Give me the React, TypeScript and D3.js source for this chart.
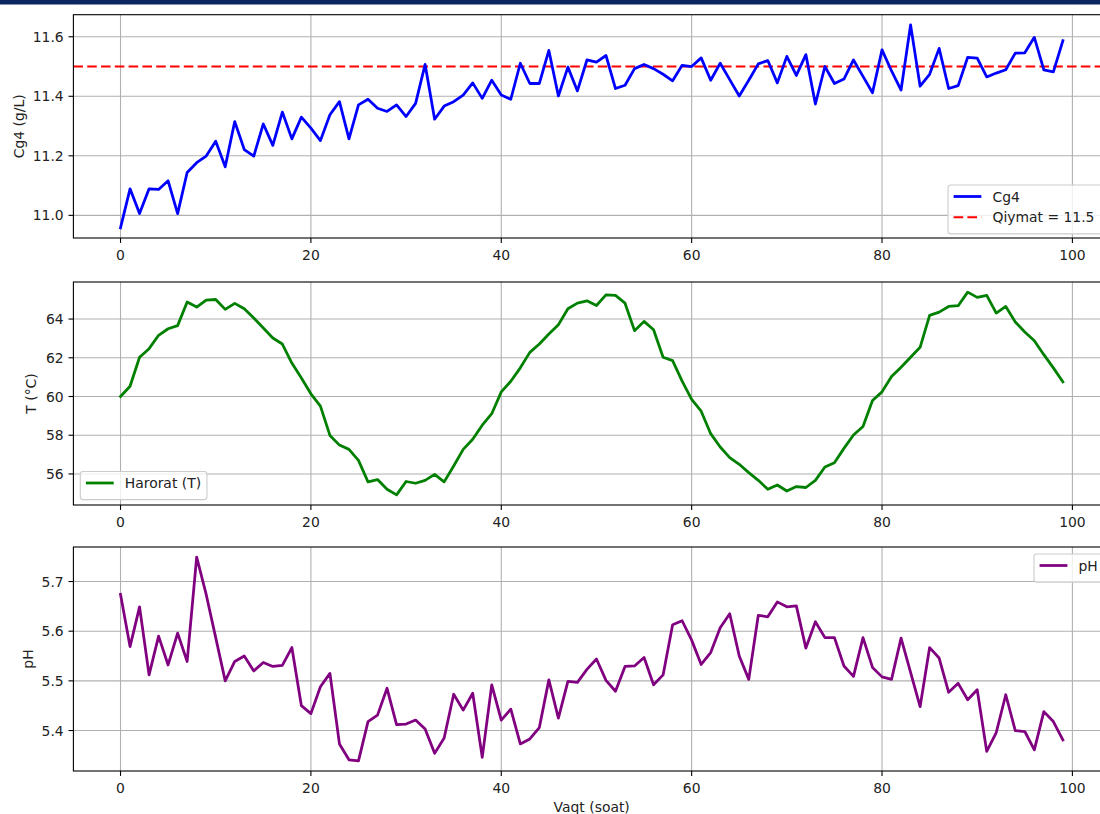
import React, { useEffect, useRef } from 'react';
import * as d3 from 'd3';

// hours 0..99
const hours: number[] = d3.range(100);

const cg4: number[] = [
  10.958, 11.089, 11.006, 11.089, 11.087, 11.116, 11.006, 11.144, 11.177, 11.199,
  11.249, 11.163, 11.315, 11.221, 11.199, 11.307, 11.235, 11.347, 11.257, 11.330,
  11.293, 11.251, 11.338, 11.382, 11.257, 11.371, 11.390, 11.360, 11.349, 11.371,
  11.332, 11.376, 11.507, 11.323, 11.367, 11.382, 11.404, 11.445, 11.393, 11.454,
  11.404, 11.390, 11.511, 11.443, 11.443, 11.554, 11.401, 11.498, 11.418, 11.522,
  11.515, 11.537, 11.426, 11.437, 11.493, 11.507, 11.493, 11.474, 11.452, 11.504,
  11.500, 11.529, 11.454, 11.511, 11.456, 11.401, 11.454, 11.509, 11.520, 11.445,
  11.534, 11.470, 11.540, 11.374, 11.500, 11.443, 11.458, 11.522, 11.467, 11.412,
  11.556, 11.485, 11.421, 11.640, 11.434, 11.474, 11.561, 11.426, 11.436, 11.531,
  11.528, 11.465, 11.478, 11.489, 11.545, 11.546, 11.598, 11.489, 11.482, 11.587,
];

const temp: number[] = [
  60.00, 60.53, 62.03, 62.47, 63.16, 63.50, 63.66, 64.88, 64.62, 64.98,
  65.01, 64.50, 64.81, 64.53, 64.05, 63.54, 63.02, 62.71, 61.73, 60.96,
  60.14, 59.50, 57.99, 57.49, 57.27, 56.70, 55.59, 55.71, 55.21, 54.92,
  55.61, 55.52, 55.67, 55.98, 55.59, 56.41, 57.27, 57.79, 58.52, 59.11,
  60.24, 60.79, 61.48, 62.28, 62.71, 63.23, 63.71, 64.53, 64.82, 64.94,
  64.70, 65.25, 65.22, 64.82, 63.40, 63.88, 63.45, 62.03, 61.85, 60.79,
  59.85, 59.24, 58.08, 57.39, 56.84, 56.50, 56.07, 55.67, 55.21, 55.43,
  55.12, 55.35, 55.30, 55.67, 56.36, 56.58, 57.32, 58.01, 58.45, 59.79,
  60.24, 61.03, 61.51, 62.03, 62.54, 64.19, 64.36, 64.65, 64.69, 65.39,
  65.12, 65.22, 64.31, 64.65, 63.85, 63.33, 62.88, 62.16, 61.48, 60.76,
];

const ph: number[] = [
  5.674, 5.569, 5.649, 5.512, 5.590, 5.532, 5.596, 5.539, 5.749, 5.674,
  5.587, 5.500, 5.539, 5.550, 5.520, 5.537, 5.529, 5.531, 5.567, 5.450,
  5.434, 5.488, 5.515, 5.373, 5.341, 5.339, 5.418, 5.431, 5.485, 5.412,
  5.413, 5.421, 5.403, 5.354, 5.385, 5.473, 5.441, 5.475, 5.346, 5.492,
  5.421, 5.443, 5.373, 5.383, 5.406, 5.502, 5.425, 5.499, 5.497, 5.523,
  5.544, 5.501, 5.479, 5.529, 5.530, 5.547, 5.492, 5.512, 5.613, 5.621,
  5.582, 5.533, 5.557, 5.607, 5.635, 5.550, 5.503, 5.632, 5.629, 5.659,
  5.649, 5.651, 5.566, 5.619, 5.587, 5.587, 5.530, 5.509, 5.587, 5.527,
  5.508, 5.503, 5.586, 5.517, 5.448, 5.567, 5.546, 5.477, 5.495, 5.462,
  5.482, 5.358, 5.396, 5.472, 5.400, 5.398, 5.361, 5.438, 5.418, 5.381,
];

const target = 11.5;

const xTicks = [0, 20, 40, 60, 80, 100];
const cgTicks = [11.0, 11.2, 11.4, 11.6];
const tTicks = [56, 58, 60, 62, 64];
const phTicks = [5.4, 5.5, 5.6, 5.7];

const W = 1100;
const H = 814;
const FONT = 'DejaVu Sans, sans-serif';
const FS = 13.9;

function padded(vals: number[]): [number, number] {
  const [lo, hi] = d3.extent(vals) as [number, number];
  const m = (hi - lo) * 0.05;
  return [lo - m, hi + m];
}

export default function App() {
  const ref = useRef<SVGSVGElement>(null);

  useEffect(() => {
    const svg = d3.select(ref.current);
    svg.selectAll('*').remove();

    svg.append('rect').attr('width', W).attr('height', H).attr('fill', '#fff');
    // dark strip along the top edge
    svg.append('rect').attr('width', W).attr('height', 4.5).attr('fill', '#0b2561');

    const left = 73.4;
    const right = 1110;
    const x = d3.scaleLinear().domain(padded(hours)).range([left, right]);

    const panels = [
      { top: 14.7, bottom: 238, data: cg4, ticks: cgTicks, fmt: d3.format('.1f'), color: '#0000ff', label: 'Cg4 (g/L)', labelX: 19 },
      { top: 282, bottom: 505, data: temp, ticks: tTicks, fmt: d3.format('d'), color: '#008000', label: 'T (°C)', labelX: 31 },
      { top: 547, bottom: 771, data: ph, ticks: phTicks, fmt: d3.format('.1f'), color: '#800080', label: 'pH', labelX: 28 },
    ];

    panels.forEach((p, pi) => {
      const y = d3.scaleLinear().domain(padded(p.data)).range([p.bottom, p.top]);
      const g = svg.append('g');

      // grid
      g.selectAll('line.gx').data(xTicks).join('line')
        .attr('x1', d => x(d)).attr('x2', d => x(d))
        .attr('y1', p.top).attr('y2', p.bottom)
        .attr('stroke', '#b0b0b0').attr('stroke-width', 1.1);
      g.selectAll('line.gy').data(p.ticks).join('line')
        .attr('x1', left).attr('x2', right)
        .attr('y1', d => y(d)).attr('y2', d => y(d))
        .attr('stroke', '#b0b0b0').attr('stroke-width', 1.1);

      const line = d3.line<number>().x((_, i) => x(hours[i])).y(d => y(d));

      if (pi === 0) {
        g.append('line')
          .attr('x1', left).attr('x2', right)
          .attr('y1', y(target)).attr('y2', y(target))
          .attr('stroke', '#ff0000').attr('stroke-width', 2.1)
          .attr('stroke-dasharray', '9.6,4.2');
      }

      g.append('path').datum(p.data)
        .attr('d', line)
        .attr('fill', 'none')
        .attr('stroke', p.color)
        .attr('stroke-width', 2.78)
        .attr('stroke-linejoin', 'round')
        .attr('stroke-linecap', 'square');

      // spines
      g.append('rect')
        .attr('x', left).attr('y', p.top)
        .attr('width', right - left).attr('height', p.bottom - p.top)
        .attr('fill', 'none').attr('stroke', '#000').attr('stroke-width', 1.1);

      // x ticks
      g.selectAll('line.tx').data(xTicks).join('line')
        .attr('x1', d => x(d)).attr('x2', d => x(d))
        .attr('y1', p.bottom).attr('y2', p.bottom + 4.9)
        .attr('stroke', '#000').attr('stroke-width', 1.1);
      g.selectAll('text.tx').data(xTicks).join('text')
        .attr('x', d => x(d)).attr('y', p.bottom + 21.5)
        .attr('text-anchor', 'middle')
        .attr('font-family', FONT).attr('font-size', FS).attr('fill', '#222')
        .text(d => String(d));

      // y ticks
      g.selectAll('line.ty').data(p.ticks).join('line')
        .attr('x1', left - 4.9).attr('x2', left)
        .attr('y1', d => y(d)).attr('y2', d => y(d))
        .attr('stroke', '#000').attr('stroke-width', 1.1);
      g.selectAll('text.ty').data(p.ticks).join('text')
        .attr('x', left - 9.7).attr('y', d => y(d))
        .attr('dy', '0.36em')
        .attr('text-anchor', 'end')
        .attr('font-family', FONT).attr('font-size', FS).attr('fill', '#222')
        .text(d => p.fmt(d));

      g.append('text')
        .attr('transform', `translate(${p.labelX},${(p.top + p.bottom) / 2}) rotate(-90)`)
        .attr('dy', '0.36em')
        .attr('text-anchor', 'middle')
        .attr('font-family', FONT).attr('font-size', FS).attr('fill', '#222')
        .text(p.label);
    });

    // legends
    const legends = [
      { x: 948, y: 185, entries: [
        { label: 'Cg4', color: '#0000ff', dash: null, w: 2.78 },
        { label: 'Qiymat = 11.5', color: '#ff0000', dash: '9.6,4.2', w: 2.1 },
      ] },
      { x: 80.3, y: 471.5, entries: [
        { label: 'Harorat (T)', color: '#008000', dash: null, w: 2.78 },
      ] },
      { x: 1034, y: 554, entries: [
        { label: 'pH', color: '#800080', dash: null, w: 2.78 },
      ] },
    ];
    legends.forEach(l => {
      const rowH = 20.8;
      const h = 7.3 + rowH * l.entries.length;
      const g = svg.append('g');
      g.append('rect')
        .attr('x', l.x).attr('y', l.y)
        .attr('width', 1103 - (l === legends[1] ? 1103 - 207 - 0 : 0) - l.x)
        .attr('height', h)
        .attr('rx', 2.8)
        .attr('fill', 'rgba(255,255,255,0.8)')
        .attr('stroke', '#cccccc').attr('stroke-width', 1.1);
      l.entries.forEach((e, i) => {
        const cy = l.y + 11.5 + i * rowH;
        g.append('line')
          .attr('x1', l.x + 5.6).attr('x2', l.x + 33.4)
          .attr('y1', cy).attr('y2', cy)
          .attr('stroke', e.color).attr('stroke-width', e.w)
          .attr('stroke-dasharray', e.dash);
        g.append('text')
          .attr('x', l.x + 44.5).attr('y', cy)
          .attr('dy', '0.36em')
          .attr('font-family', FONT).attr('font-size', FS).attr('fill', '#222')
          .text(e.label);
      });
    });

    svg.append('text')
      .attr('x', x(49.5)).attr('y', 811.5)
      .attr('text-anchor', 'middle')
      .attr('font-family', FONT).attr('font-size', FS).attr('fill', '#222')
      .text('Vaqt (soat)');
  }, []);

  return (
    <div style={{ position: 'absolute', left: 0, top: 0 }}>
      <svg ref={ref} width={W} height={H} style={{ display: 'block' }} />
    </div>
  );
}
